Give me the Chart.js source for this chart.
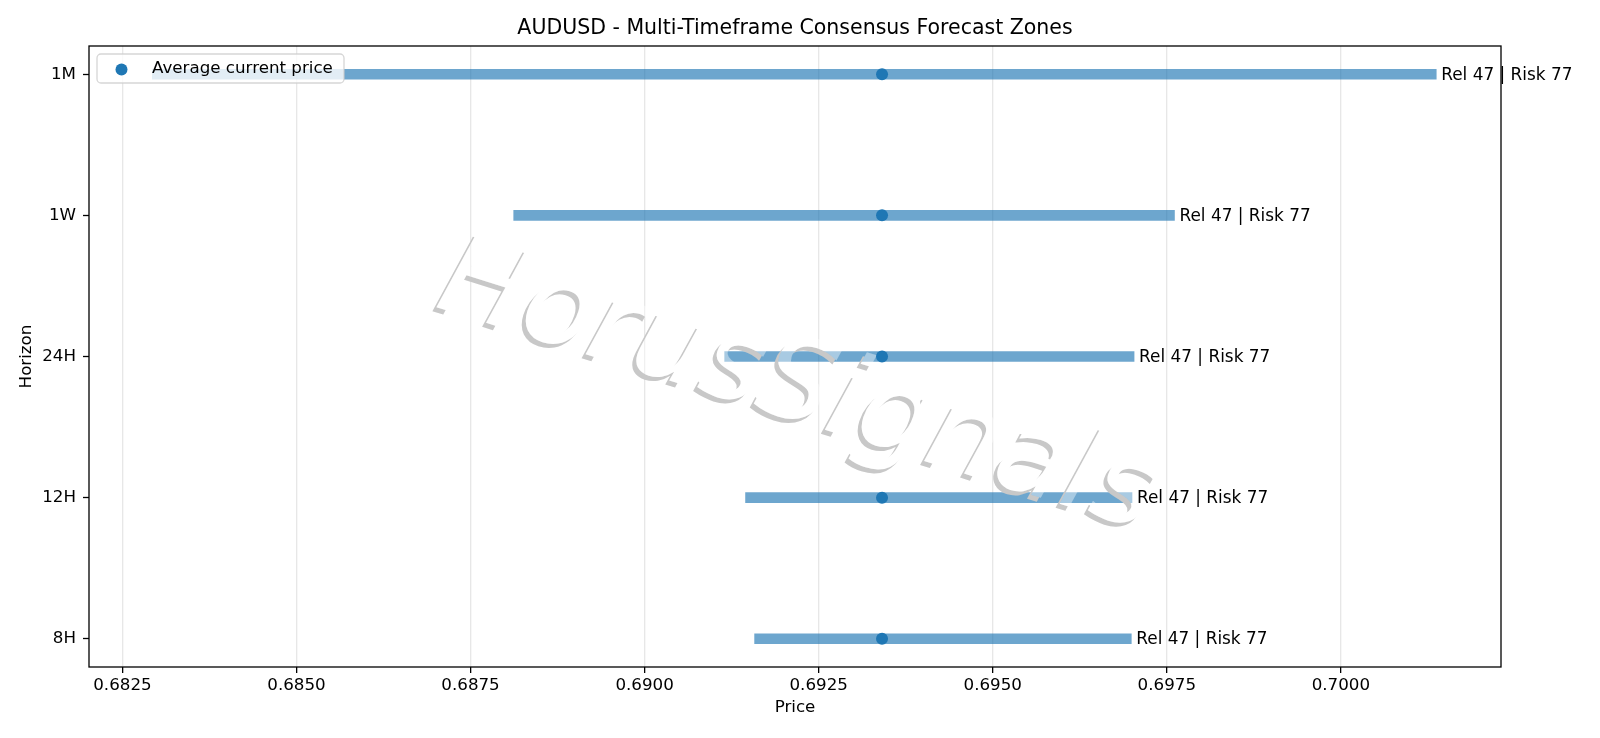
<!DOCTYPE html>
<html>
<head>
<meta charset="utf-8">
<script src="https://cdn.jsdelivr.net/npm/chart.js@4.4.1/dist/chart.umd.min.js"></script>
<style>
  html, body { margin: 0; padding: 0; background: #fff; }
  #wrap { width: 1600px; height: 738px; }
</style>
</head>
<body>
<div id="wrap"><canvas id="zones" width="1600" height="738"></canvas></div>
<script>
const horizons = ["1M", "1W", "24H", "12H", "8H"];
const zoneLow = [0.68293, 0.68812, 0.69115, 0.69145, 0.69158];
const zoneHigh = [0.70137, 0.69761, 0.69703, 0.69700, 0.69699];
const currentPrice = [0.69341, 0.69341, 0.69341, 0.69341, 0.69341];
const reliability = [47, 47, 47, 47, 47];
const riskScore = [77, 77, 77, 77, 77];
const priceTicks = [0.6825, 0.6850, 0.6875, 0.6900, 0.6925, 0.6950, 0.6975, 0.7000];

const font = "'DejaVu Sans', 'Liberation Sans', sans-serif";
const blue = "#1f77b4";
const zoneBlue = "rgba(31, 119, 180, 0.65)";

// frame round the plot area (matplotlib spines)
const framePlugin = {
  id: "frame",
  afterDraw(chart) {
    const { ctx, chartArea: a } = chart;
    ctx.save();
    ctx.strokeStyle = "#000";
    ctx.lineWidth = 1.3;
    ctx.strokeRect(a.left, a.top, a.right - a.left, a.bottom - a.top);
    ctx.restore();
  },
};

// "HorusSignals" watermark, drawn over the zones but under the dots
const watermarkPlugin = {
  id: "watermark",
  afterDatasetDraw(chart, args) {
    if (args.meta.type !== "bar") return;
    const { ctx, width, height } = chart;
    const text = "HorusSignals";
    const wmFont = "oblique 114px " + font;
    const angle = (17.5 * Math.PI) / 180;
    const cx = 788, cy = 418;

    const off = document.createElement("canvas");
    off.width = width;
    off.height = height;
    const o = off.getContext("2d");
    o.font = wmFont;
    o.textAlign = "center";
    o.textBaseline = "alphabetic";
    o.save();
    o.translate(cx - 4, cy + 4);
    o.rotate(angle);
    o.filter = "blur(0.6px)";
    o.fillStyle = "rgb(200, 200, 200)";
    o.fillText(text, 0, 0);
    o.restore();
    o.save();
    o.globalCompositeOperation = "destination-out";
    o.translate(cx, cy);
    o.rotate(angle);
    o.fillStyle = "#000";
    o.fillText(text, 0, 0);
    o.restore();

    ctx.save();
    ctx.drawImage(off, 0, 0);
    ctx.font = wmFont;
    ctx.textAlign = "center";
    ctx.textBaseline = "alphabetic";
    ctx.translate(cx, cy);
    ctx.rotate(angle);
    ctx.fillStyle = "rgba(255, 255, 255, 0.4)";
    ctx.fillText(text, 0, 0);
    ctx.restore();
  },
};

// "Rel xx | Risk yy" next to each zone's right end
const zoneLabelPlugin = {
  id: "zoneLabels",
  afterDatasetsDraw(chart) {
    const { ctx, scales } = chart;
    ctx.save();
    ctx.font = "16.9px " + font;
    ctx.fillStyle = "#000";
    ctx.textAlign = "left";
    ctx.textBaseline = "middle";
    horizons.forEach((h, i) => {
      const x = scales.x.getPixelForValue(zoneHigh[i]) + 5;
      const y = scales.y.getPixelForValue(i);
      ctx.fillText(`Rel ${reliability[i]} | Risk ${riskScore[i]}`, x, y + 1);
    });
    ctx.restore();
  },
};

// legend box in the upper left corner of the plot
const legendPlugin = {
  id: "legendBox",
  afterDraw(chart) {
    const { ctx, chartArea: a } = chart;
    const ds = chart.data.datasets[0];
    const x = a.left + 8, y = a.top + 8, w = 247, h = 29, r = 4;
    ctx.save();
    ctx.beginPath();
    ctx.roundRect(x, y, w, h, r);
    ctx.fillStyle = "rgba(255, 255, 255, 0.8)";
    ctx.fill();
    ctx.strokeStyle = "rgba(204, 204, 204, 0.8)";
    ctx.lineWidth = 1.3;
    ctx.stroke();
    ctx.beginPath();
    ctx.arc(x + 24.5, y + 15.5, 6, 0, Math.PI * 2);
    ctx.fillStyle = blue;
    ctx.fill();
    ctx.font = "16.7px " + font;
    ctx.fillStyle = "#000";
    ctx.textBaseline = "middle";
    ctx.fillText(ds.label, x + 55, y + 15);
    ctx.restore();
  },
};

new Chart(document.getElementById("zones"), {
  type: "bar",
  data: {
    datasets: [
      {
        type: "scatter",
        label: "Average current price",
        data: horizons.map((h, i) => ({ x: currentPrice[i], y: i })),
        backgroundColor: blue,
        borderColor: blue,
        pointRadius: 6,
        pointHoverRadius: 6,
        borderWidth: 0,
      },
      {
        type: "bar",
        label: "Forecast zone",
        indexAxis: "y",
        data: horizons.map((h, i) => ({ x: [zoneLow[i], zoneHigh[i]], y: i })),
        backgroundColor: zoneBlue,
        borderWidth: 0,
        barThickness: 10,
      },
    ],
  },
  options: {
    responsive: false,
    devicePixelRatio: 1,
    animation: false,
    events: [],
    layout: { padding: { left: 0, right: 10, top: 0, bottom: 0 } },
    plugins: {
      legend: { display: false },
      tooltip: { enabled: false },
      title: {
        display: true,
        text: "AUDUSD - Multi-Timeframe Consensus Forecast Zones",
        color: "#000",
        font: { family: font, size: 20.5, weight: "normal", lineHeight: "24px" },
        padding: { top: 17, bottom: 5 },
      },
    },
    scales: {
      x: {
        type: "linear",
        position: "bottom",
        offset: false,
        min: 0.68202,
        max: 0.7023,
        afterBuildTicks(scale) {
          scale.ticks = priceTicks.map((v) => ({ value: v }));
        },
        afterFit(scale) {
          scale.height = 71;
        },
        ticks: {
          color: "#000",
          font: { family: font, size: 16.7 },
          padding: 3,
          maxRotation: 0,
          autoSkip: false,
          callback: (v) => Number(v).toFixed(4),
        },
        grid: {
          offset: false,
          color: "rgba(176, 176, 176, 0.3)",
          lineWidth: 1.3,
          tickColor: "#000",
          tickWidth: 1.3,
          tickLength: 6,
        },
        border: { display: false },
        title: {
          display: true,
          text: "Price",
          color: "#000",
          font: { family: font, size: 16.7, lineHeight: 1.2 },
          padding: { top: 0, bottom: 20 },
        },
      },
      y: {
        type: "linear",
        position: "left",
        offset: false,
        reverse: true,
        min: -0.2,
        max: 4.2,
        afterBuildTicks(scale) {
          scale.ticks = horizons.map((h, i) => ({ value: i }));
        },
        afterFit(scale) {
          scale.width = 89;
        },
        ticks: {
          color: "#000",
          font: { family: font, size: 16.7 },
          padding: 7,
          autoSkip: false,
          callback: (v) => horizons[v],
        },
        grid: {
          offset: false,
          drawOnChartArea: false,
          tickColor: "#000",
          tickWidth: 1.3,
          tickLength: 6,
        },
        border: { display: false },
        title: {
          display: true,
          text: "Horizon",
          color: "#000",
          font: { family: font, size: 16.7, lineHeight: 1.2 },
          padding: { top: 17, bottom: 0 },
        },
      },
      // empty right-hand margin, keeps the title centred over the plot
      yRight: {
        type: "linear",
        position: "right",
        display: true,
        min: 0,
        max: 1,
        afterFit(scale) {
          scale.width = 89;
        },
        ticks: { display: false },
        grid: { display: false, drawTicks: false },
        border: { display: false },
      },
    },
  },
  plugins: [watermarkPlugin, zoneLabelPlugin, framePlugin, legendPlugin],
});
</script>
</body>
</html>
